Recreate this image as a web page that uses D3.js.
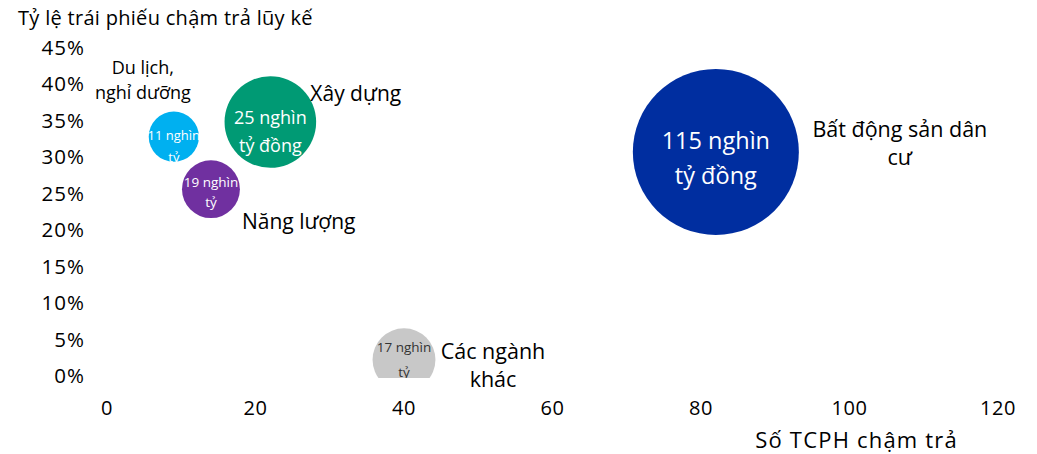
<!DOCTYPE html>
<html>
<head>
<meta charset="utf-8">
<script src="https://cdn.jsdelivr.net/npm/d3@7"></script>
<style>
  body { margin: 0; background: #fff; }
  svg text { font-family: "Open Sans", "Noto Sans", sans-serif; fill: #000; }
</style>
</head>
<body>
<svg id="chart" width="1037" height="454"></svg>
<script>
// sectors
var sectors = ['Du lịch, nghỉ dưỡng', 'Xây dựng', 'Năng lượng', 'Các ngành khác', 'Bất động sản dân cư'];
var issuers = [9, 22, 14, 40, 82];            // số TCPH chậm trả
var defaultRate = [0.327, 0.347, 0.255, 0.021, 0.306]; // tỷ lệ chậm trả lũy kế
var bubbleSize = [10.5, 35, 14, 16.5, 115];   // bubble area, estimated
var valueLabels = ['11 nghìn tỷ', '25 nghìn tỷ đồng', '19 nghìn tỷ', '17 nghìn tỷ', '115 nghìn tỷ đồng'];
var xTicks = [0, 20, 40, 60, 80, 100, 120];
var yTicks = [0, 0.05, 0.1, 0.15, 0.2, 0.25, 0.3, 0.35, 0.4, 0.45];

var colors = ['#00b0f0', '#009a74', '#7030a0', '#c8c8c8', '#002ea0'];

// how each bubble's texts sit (offsets from centre, px)
var styles = [
  { fs: 13, ink: '#fff', inner: [-2, 20], name: ['Du lịch,', 'nghỉ dưỡng'], nfs: 18, anchor: 'middle', dx: -31, dy: [-70, -45] },
  { fs: 18, ink: '#fff', inner: [-5, 23], name: ['Xây dựng'], nfs: 21, anchor: 'start', dx: 40, dy: [-29] },
  { fs: 13.5, ink: '#fff', inner: [-7, 13], name: ['Năng lượng'], nfs: 21, anchor: 'start', dx: 31, dy: [32] },
  { fs: 13.5, ink: '#333', inner: [-13, 12], name: ['Các ngành', 'khác'], nfs: 21.5, anchor: 'middle', dx: 89, dy: [-9, 19] },
  { fs: 23.5, ink: '#fff', inner: [-12, 23], name: ['Bất động sản dân', 'cư'], nfs: 21.5, anchor: 'middle', dx: 184, dy: [-23, 5] }
];

var svg = d3.select('#chart');
var x = d3.scaleLinear().domain([0, 120]).range([107, 998]);
var y = d3.scaleLinear().domain([0, 0.45]).range([375, 47]);
var r = d3.scaleSqrt().domain([0, 115]).range([0, 83]);

var data = sectors.map(function (s, i) {
  return { name: s, x: issuers[i], y: defaultRate[i], size: bubbleSize[i], label: valueLabels[i], color: colors[i], st: styles[i] };
});

// title
svg.append('text').attr('x', 18).attr('y', 25).style('font-size', '20px')
  .style('letter-spacing', '0.3px')
  .text('Tỷ lệ trái phiếu chậm trả lũy kế');

// y axis labels
svg.append('g').selectAll('text').data(yTicks).enter().append('text')
  .attr('x', 85).attr('y', function (d) { return y(d); })
  .attr('text-anchor', 'end').attr('dominant-baseline', 'central')
  .style('font-size', '20.5px').style('letter-spacing', '1px')
  .text(d3.format('.0%'));

// x axis labels
svg.append('g').selectAll('text').data(xTicks).enter().append('text')
  .attr('x', function (d) { return x(d); }).attr('y', 407)
  .attr('text-anchor', 'middle').attr('dominant-baseline', 'central')
  .style('font-size', '20px').style('letter-spacing', '0.5px')
  .text(function (d) { return d; });

svg.append('text').attr('x', 958).attr('y', 439).attr('text-anchor', 'end')
  .attr('dominant-baseline', 'central').style('font-size', '22px')
  .style('letter-spacing', '1.2px')
  .text('Số TCPH chậm trả');

// clip bubbles at the bottom of the plot
svg.append('clipPath').attr('id', 'plot').append('rect')
  .attr('x', 0).attr('y', 0).attr('width', 1037).attr('height', y(0) + 3);

var bubbles = svg.append('g').attr('clip-path', 'url(#plot)');
var node = bubbles.selectAll('g').data(data).enter().append('g')
  .attr('transform', function (d) { return 'translate(' + x(d.x) + ',' + y(d.y) + ')'; });

node.append('circle')
  .attr('r', function (d) { return r(d.size); })
  .attr('fill', function (d) { return d.color; });

// value text inside bubble
node.each(function (d) {
  var g = d3.select(this);
  var words = d.label.split(' ');
  var lines = [words.slice(0, 2).join(' '), words.slice(2).join(' ')];
  lines.forEach(function (ln, k) {
    g.append('text')
      .attr('x', 0).attr('y', d.st.inner[k])
      .attr('text-anchor', 'middle').attr('dominant-baseline', 'central')
      .style('font-size', d.st.fs + 'px').style('fill', d.st.ink)
      .text(ln);
  });
});

// sector names
var names = svg.append('g');
data.forEach(function (d) {
  d.st.name.forEach(function (ln, k) {
    names.append('text')
      .attr('x', x(d.x) + d.st.dx).attr('y', y(d.y) + d.st.dy[k])
      .attr('text-anchor', d.st.anchor).attr('dominant-baseline', 'central')
      .style('font-size', d.st.nfs + 'px')
      .text(ln);
  });
});
</script>
</body>
</html>
